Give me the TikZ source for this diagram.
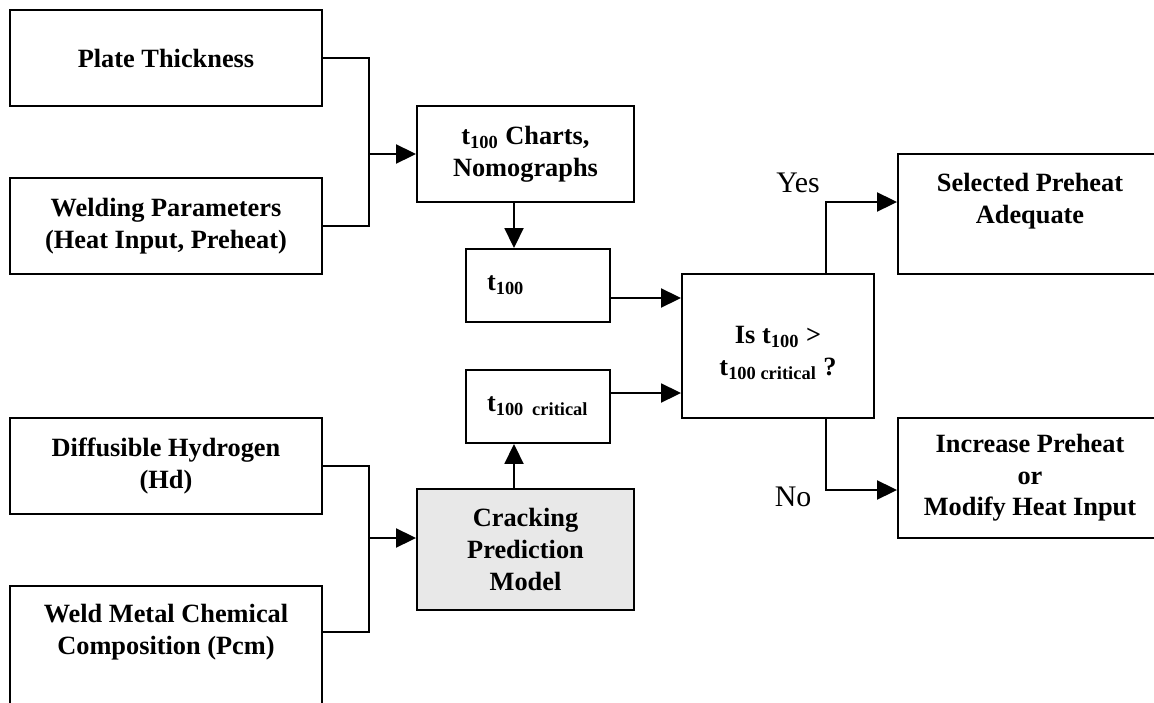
\documentclass[tikz,border=0pt]{standalone}
\usepackage{fontspec}
\setmainfont{Liberation Serif}
\usepackage{xcolor}
\definecolor{modelgray}{gray}{0.91}
\usetikzlibrary{arrows.meta,positioning,calc}

\begin{document}
\begin{tikzpicture}[
  x=0.02cm, y=-0.02cm,
  font=\fontsize{15}{18}\selectfont\bfseries,
  box/.style={
    rectangle, draw=black, line width=1.1pt,
    minimum width=#1, align=center, inner sep=2pt
  },
  tbox/.style={
    rectangle, draw=black, line width=1.1pt,
    text width=2.04cm, inner xsep=0.42cm,
    minimum height=1.46cm, align=left
  },
  lbl/.style={font=\fontsize{17}{20}\selectfont\mdseries},
  wire/.style={line width=1.1pt},
  arr/.style={-{Triangle[length=0.4cm,width=0.38cm]}, line width=1.1pt}
]
\useasboundingbox (0,0) rectangle (1154,703);
\clip (0,0) rectangle (1154,703);

% inputs
\node[box=6.25cm, minimum height=1.92cm] (plate) at (166,58) {Plate Thickness};
\node[box=6.25cm, minimum height=1.92cm] (weldpar) at (166,226) {Welding Parameters\\(Heat Input, Preheat)};
\node[box=6.25cm, minimum height=1.92cm] (hydrogen) at (166,466) {Diffusible Hydrogen\\(Hd)};
\node[box=6.25cm, minimum height=2.96cm] (pcm) at (166,660) {Weld Metal Chemical\\Composition (Pcm)\\\strut\\[-0.24cm]\strut};

% middle column
\node[box=4.34cm, minimum height=1.92cm] (charts) at (525.5,154) {t\textsubscript{100} Charts,\\Nomographs};
\node[tbox] (t100) at (538,285.5) {t\textsubscript{100}};
\node[tbox] (tcrit) at (538,406.5) {t\textsubscript{100 critical}};
\node[box=4.34cm, minimum height=2.42cm, fill=modelgray] (model) at (525.5,549.5) {Cracking\\Prediction\\Model};

% decision and outcomes
\node[box=3.84cm, minimum height=2.88cm] (decision) at (778,346) {\rule{0pt}{18pt}Is t\textsubscript{100} >\\t\textsubscript{100 critical} ?};
\node[box=5.28cm, minimum height=2.4cm] (selected) at (1030,214) {Selected Preheat\\Adequate\\[-0.2cm]\strut};
\node[box=5.28cm, minimum height=2.4cm] (increase) at (1030,478) {Increase Preheat\\or\\Modify Heat Input};

\node[lbl] (yes) at (798,183) {Yes};
\node[lbl] (no) at (793,497) {No};

% connectors
\coordinate (jtop) at (369,154);
\coordinate (jbot) at (369,538);
\draw[wire] (plate.east) -| (jtop) |- (weldpar.east);
\draw[arr] (jtop) -- (jtop -| charts.west);
\draw[wire] (hydrogen.east) -| (jbot) |- ([yshift=-0.94cm]pcm.north east);
\draw[arr] (jbot) -- (jbot -| model.west);

\draw[arr] ([xshift=-0.23cm]charts.south) -- ([xshift=-0.23cm]charts.south |- t100.north);
\draw[arr] ([xshift=-0.23cm]model.north) -- ([xshift=-0.23cm]model.north |- tcrit.south);
\draw[arr] ([yshift=-0.25cm]t100.east) -- ([yshift=-0.25cm]t100.east -| decision.west);
\draw[arr] ([yshift=0.27cm]tcrit.east) -- ([yshift=0.27cm]tcrit.east -| decision.west);

\draw[arr] ([xshift=0.96cm]decision.north) |- ([yshift=0.24cm]selected.west);
\draw[arr] ([xshift=0.96cm]decision.south) |- ([yshift=-0.24cm]increase.west);
\end{tikzpicture}
\end{document}
